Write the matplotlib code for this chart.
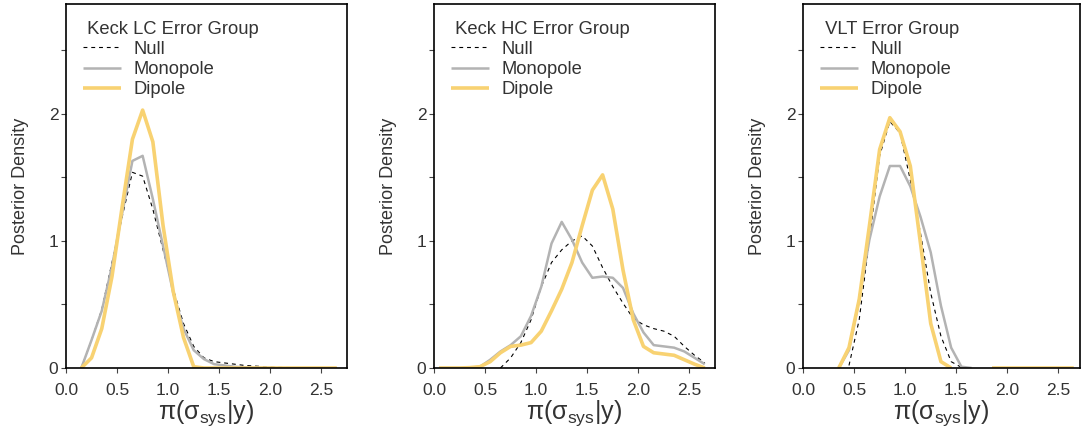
import numpy as np
import matplotlib
matplotlib.use("Agg")
import matplotlib.pyplot as plt

plt.rcParams['font.family'] = ['Liberation Sans', 'DejaVu Sans']
plt.rcParams['mathtext.fontset'] = 'custom'
plt.rcParams['mathtext.rm'] = 'Liberation Sans'
plt.rcParams['mathtext.it'] = 'Liberation Sans'

nan = np.nan
# bin centres
x = [0.05, 0.15, 0.25, 0.35, 0.45, 0.55, 0.65, 0.75, 0.85, 0.95, 1.05, 1.15, 1.25,
     1.35, 1.45, 1.55, 1.65, 1.75, 1.85, 1.95, 2.05, 2.15, 2.25, 2.35, 2.45, 2.55, 2.65]

titles = ["Keck LC Error Group", "Keck HC Error Group", "VLT Error Group"]
series_names = ["Null", "Monopole", "Dipole"]

# Keck LC
lc_null = [nan, 0.0, 0.22, 0.46, 0.83, 1.19, 1.54, 1.51, 1.25, 0.93, 0.62, 0.35, 0.17,
           0.08, 0.05, 0.04, 0.03, 0.02, 0.015, 0.01, 0.005, 0.004, 0.003, 0.002, 0.002, 0.001, 0.001]
lc_mono = [nan, 0.0, 0.22, 0.45, 0.80, 1.22, 1.63, 1.67, 1.33, 0.96, 0.59, 0.31, 0.14,
           0.07, 0.03, 0.02, 0.01, 0.005, 0.003, 0.002, 0.001, nan, nan, nan, nan, nan, nan]
lc_dip = [nan, 0.0, 0.08, 0.31, 0.72, 1.27, 1.80, 2.03, 1.78, 1.12, 0.60, 0.24, 0.01,
          0.0, 0.0, 0.0, 0.0, 0.0, 0.0, 0.0, 0.0, 0.0, 0.0, 0.0, 0.0, 0.0, 0.0]

# Keck HC
hc_null = [nan, nan, nan, nan, nan, nan, 0.0, 0.08, 0.20, 0.38, 0.64, 0.83, 0.93,
           1.00, 1.04, 0.96, 0.79, 0.64, 0.51, 0.39, 0.34, 0.31, 0.29, 0.25, 0.17, 0.10, 0.04]
hc_mono = [0.0, 0.0, 0.0, 0.003, 0.01, 0.065, 0.13, 0.18, 0.25, 0.41, 0.64, 0.98, 1.15,
           1.01, 0.83, 0.71, 0.72, 0.71, 0.63, 0.43, 0.28, 0.18, 0.17, 0.16, 0.13, 0.08, 0.03]
hc_dip = [0.0, 0.0, 0.0, 0.003, 0.01, 0.05, 0.12, 0.17, 0.18, 0.20, 0.29, 0.45, 0.62,
          0.83, 1.12, 1.40, 1.52, 1.25, 0.77, 0.38, 0.17, 0.12, 0.11, 0.10, 0.065, 0.03, 0.0]

# VLT
vlt_null = [nan, nan, nan, nan, 0.02, 0.38, 1.01, 1.67, 1.94, 1.85, 1.48, 1.06, 0.59,
            0.25, 0.05, 0.005, nan, nan, nan, nan, nan, nan, nan, nan, nan, nan, nan]
vlt_mono = [nan, nan, nan, 0.0, 0.14, 0.54, 1.01, 1.35, 1.59, 1.59, 1.43, 1.19, 0.91,
            0.49, 0.16, 0.01, 0.0, nan, nan, nan, nan, nan, nan, nan, nan, nan, nan]
vlt_dip = [nan, nan, nan, 0.0, 0.16, 0.54, 1.12, 1.72, 1.97, 1.86, 1.59, 0.98, 0.35,
           0.05, 0.0, nan, nan, nan, 0.0, 0.0, 0.0, 0.0, 0.0, 0.0, 0.0, 0.0, 0.0]

panels = [(lc_null, lc_mono, lc_dip), (hc_null, hc_mono, hc_dip), (vlt_null, vlt_mono, vlt_dip)]

text_col = '#333333'
styles = [dict(color='black', lw=0.8, ls=(0, (3.5, 3.5))),
          dict(color='#b3b3b3', lw=1.8, ls='-'),
          dict(color='#f8d272', lw=2.6, ls='-')]

W, H = 1081, 429
fig = plt.figure(figsize=(W / 100, H / 100), dpi=100)

lefts = [66, 434, 803]
widths = [281, 281, 277]
bottom = 61
height = 364

for i, (title, data) in enumerate(zip(titles, panels)):
    ax = fig.add_axes([lefts[i] / W, bottom / H, widths[i] / W, height / H])
    for name, vals, st in zip(series_names, data, styles):
        ax.plot(x, vals, label=name, solid_capstyle='butt', **st)
    ax.set_xlim(0, 2.75 if i < 2 else 2.75 * 277 / 281)
    ax.set_ylim(0, 2.865)
    ax.set_xticks([0.0, 0.5, 1.0, 1.5, 2.0, 2.5])
    ax.set_xticklabels(['0.0', '0.5', '1.0', '1.5', '2.0', '2.5'])
    ax.set_yticks([0, 1, 2])
    ax.set_yticklabels(['0', '1', '2'])
    ax.set_yticks([0.5, 1.5, 2.5], minor=True)
    ax.tick_params(axis='both', which='both', direction='out', length=3.5, width=0.8,
                   color='#444444', labelsize=12.5, labelcolor=text_col)
    ax.tick_params(axis='x', which='both', pad=7.5)
    ax.tick_params(axis='y', which='both', pad=2)
    for sp in ax.spines.values():
        sp.set_linewidth(1.2)
        sp.set_color('black')
    ax.set_ylabel('Posterior Density', fontsize=13, color=text_col, labelpad=14)
    ax.set_xlabel(r'$\mathrm{\pi(\sigma_{sys}|y)}$', fontsize=18, color=text_col, labelpad=0)
    leg = ax.legend(title=' ' + title, loc='upper left', frameon=False, fontsize=13.2,
                    title_fontsize=13.2, handlelength=2.1, handletextpad=0.7,
                    labelspacing=0.18, borderaxespad=0.5, alignment='left',
                    bbox_to_anchor=(0.0, 1.0))
    leg.get_title().set_color(text_col)
    for t in leg.get_texts():
        t.set_color(text_col)

fig.savefig('out.png', dpi=100)
